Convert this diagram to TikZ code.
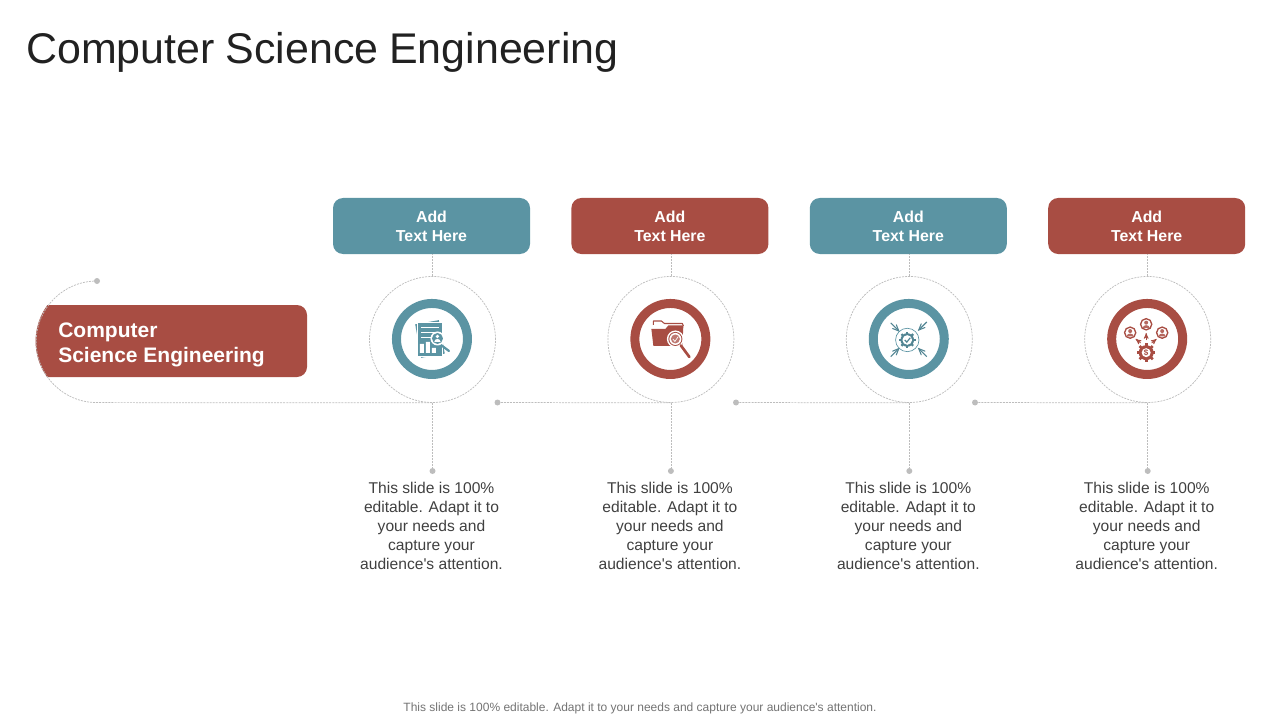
\documentclass[tikz,border=0pt]{standalone}
\usepackage{fontspec}
\setmainfont[Ligatures=TeXOff]{Liberation Sans}
\usetikzlibrary{arrows}
\definecolor{tealc}{HTML}{5B94A3}
\definecolor{redc}{HTML}{A84D43}
\definecolor{dotc}{HTML}{BDBDBD}
\tikzset{node distance=178.8pt,
  dashline/.style={draw=dotc,line width=0.55pt,dash pattern=on 1.5pt off 0.8pt},
  headbox/.style={rounded corners=7.5pt,minimum width=147.75pt,minimum height=42pt,inner sep=0pt,text=white,align=center,font=\fontsize{11.9}{14.25}\selectfont\bfseries},
  bodytext/.style={align=center,inner sep=0pt,text=black!75,font=\fontsize{11.7}{14.25}\selectfont},
  outerring/.style={circle,dashline,minimum size=94.5pt,inner sep=0pt},
  colorring/.style={circle,line width=6.75pt,minimum size=53.25pt,inner sep=0pt,xshift=-0.4pt,yshift=0.4pt},
  dotmark/.style={circle,fill=dotc,minimum size=4.5pt,inner sep=0pt},
  % icons are drawn around their centre, one unit is one pixel
  reporticon/.pic={
    \fill[tealc,rotate around={10:(-2,0)}] (-14,-17) rectangle (10,17);
    \filldraw[fill=tealc,draw=white,line width=0.5pt] (-15,-17) rectangle (10,17);
    \draw[white,line width=0.6pt] (-11,-12) -- (7,-12) (-11,-7) -- (7,-7) (-11,-2) -- (0,-2);
    \fill[white] (-12,5) rectangle (-8,14) (-6,3) rectangle (-2,14) (0,9) rectangle (4,14);
    \draw[tealc,line width=1.7pt,line cap=round] (9,6) -- (17,12);
    \fill[white] (5.5,-0.5) circle (7);
    \fill[tealc] (5.5,-0.5) circle (5.5);
    \fill[white] (5.5,-2.5) circle (1.8);
    \fill[white] (2.3,3) .. controls (2.5,-1) and (8.5,-1) .. (8.7,3) -- cycle;
  },
  foldericon/.pic={
    \draw[redc,line width=0.8pt,line join=round] (-17,-14) -- (-17,-18) -- (-9,-18) -- (-6,-15.5) -- (12,-15.5) -- (13,-13);
    \fill[redc] (-19,-10) -- (-5,-10) -- (-2,-13.5) -- (13,-13.5) -- (12,7) -- (-17,7) -- cycle;
    \fill[white] (5,0) circle (8.5);
    \fill[redc] (5,0) circle (7);
    \fill[white] (5,0) circle (6);
    \fill[redc!75] (5,0) circle (4.5);
    \draw[white,line width=0.5pt] (2.5,0) -- (4.5,2.5) -- (8,-2.5);
    \draw[redc,line width=2pt,line cap=round] (10.5,6.5) -- (19,18);
  },
  gearicon/.pic={
    \draw[tealc!90!black,line width=0.8pt,->,>=angle 45] (-18,-16) -- (-9,-7);
    \draw[tealc!90!black,line width=0.8pt,->,>=angle 45] (18,-17) -- (9,-8);
    \draw[tealc!90!black,line width=0.8pt,->,>=angle 45] (-18,17.7) -- (-9,8.7);
    \draw[tealc!90!black,line width=0.8pt,->,>=angle 45] (18,17.7) -- (9,8.7);
    \draw[tealc,line width=0.5pt] (-1.5,1) circle (11.7);
    \fill[tealc!90!black] (-1.5,1) circle (6.8);
    \foreach \a in {0,45,...,315} \draw[tealc!90!black,line width=1.6pt] (-1.5,1) -- ++(\a:8.3);
    \fill[white] (-1.5,1) circle (4.8);
    \draw[tealc!90!black,line width=0.9pt] (-4,1) -- (-2,3.2) -- (1.5,-1.2);
  },
  personicon/.pic={
    \draw[redc,line width=1pt] (0,0) circle (5.6);
    \fill[redc!85] (0,-1.6) circle (2);
    \fill[redc!85] (-3.6,3.6) .. controls (-3,0) and (3,0) .. (3.6,3.6) -- cycle;
  },
  payicon/.pic={
    \pic at (-1,-14.7) {personicon};
    \pic at (-17,-6.3) {personicon};
    \pic at (15,-6.3) {personicon};
    \draw[redc,line width=0.6pt,->,>=stealth'] (-1,1.5) -- (-1,-6);
    \draw[redc,line width=0.6pt,->,>=stealth'] (-6.5,4) -- (-11.5,0);
    \draw[redc,line width=0.6pt,->,>=stealth'] (4.5,4) -- (9.5,0);
    \fill[redc] (-1,13.7) circle (7.5);
    \foreach \a in {0,45,...,315} \draw[redc,line width=2pt] (-1,13.7) -- ++(\a:9.3);
    \fill[white] (-1,13.7) circle (4.5);
    \node (paysign) at (-1,13.7) [inner sep=0pt,text=redc,font=\fontsize{6}{6}\selectfont\bfseries] {\$};
  }
}

\begin{document}
\begin{tikzpicture}[x=0.75pt,y=-0.75pt]
  \useasboundingbox (0,0) rectangle (1280,720);

  \node[anchor=west,inner sep=0pt,text=black!87,font=\fontsize{32.2}{36}\selectfont] (title) at (26,52) {\spaceskip=8.2pt Computer Science Engineering};

  % start of the timeline
  \node[dotmark] (arcdot) at (97,281) {};
  \fill[redc] (47,305) [rounded corners=7.5pt] -- (307,305) -- (307,377) [sharp corners] -- (47,377) arc[start angle=215.5,end angle=144.5,radius=46.1pt] -- cycle;
  \node[anchor=west,inner sep=0pt,align=left,text=white,font=\fontsize{15.75}{18.75}\selectfont\bfseries] (lefttext) at (58,344.5) {Computer\\Science Engineering};

  \node[headbox,fill=tealc] (boxa) at (431.5,226) {Add\\Text Here};
  \node[headbox,fill=redc] (boxb) [right of=boxa] {Add\\Text Here};
  \node[headbox,fill=tealc] (boxc) [right of=boxb] {Add\\Text Here};
  \node[headbox,fill=redc] (boxd) [right of=boxc] {Add\\Text Here};

  \node[outerring] (outera) at (432.5,339.5) {};
  \node[outerring] (outerb) [right of=outera] {};
  \node[outerring] (outerc) [right of=outerb] {};
  \node[outerring] (outerd) [right of=outerc] {};

  \node[colorring,draw=tealc] (ringa) at (outera) {};
  \node[colorring,draw=redc] (ringb) at (outerb) {};
  \node[colorring,draw=tealc] (ringc) at (outerc) {};
  \node[colorring,draw=redc] (ringd) at (outerd) {};

  \pic at (ringa) {reporticon};
  \pic at (ringb) {foldericon};
  \pic at (ringc) {gearicon};
  \pic at (ringd) {payicon};

  \node[dotmark] (dota) at (432.5,471) {};
  \node[dotmark] (dotb) [right of=dota] {};
  \node[dotmark] (dotc) [right of=dotb] {};
  \node[dotmark] (dotd) [right of=dotc] {};

  \node[dotmark] (linkb) at (497.5,402.5) {};
  \node[dotmark] (linkc) at (736,402.5) {};
  \node[dotmark] (linkd) at (975,402.5) {};

  \node[bodytext,anchor=north] (texta) at (431.5,482) {This slide is 100\%\\editable. Adapt it to\\your needs and\\capture your\\audience's attention.};
  \node[bodytext,anchor=north] (textb) [right of=texta] {This slide is 100\%\\editable. Adapt it to\\your needs and\\capture your\\audience's attention.};
  \node[bodytext,anchor=north] (textc) [right of=textb] {This slide is 100\%\\editable. Adapt it to\\your needs and\\capture your\\audience's attention.};
  \node[bodytext,anchor=north] (textd) [right of=textc] {This slide is 100\%\\editable. Adapt it to\\your needs and\\capture your\\audience's attention.};

  \draw[dashline] (arcdot.center) arc[start angle=90,end angle=180,radius=45.6pt] arc[start angle=180,end angle=270,radius=45.6pt] -- (outera.south);

  \draw[dashline] (outera.north) -- (outera.north |- boxa.south);
  \draw[dashline] (outerb.north) -- (outerb.north |- boxb.south);
  \draw[dashline] (outerc.north) -- (outerc.north |- boxc.south);
  \draw[dashline] (outerd.north) -- (outerd.north |- boxd.south);

  \draw[dashline] (outera.south) -- (outera.south |- dota);
  \draw[dashline] (outerb.south) -- (outerb.south |- dotb);
  \draw[dashline] (outerc.south) -- (outerc.south |- dotc);
  \draw[dashline] (outerd.south) -- (outerd.south |- dotd);

  \draw[dashline] (linkb) -- (outerb.south);
  \draw[dashline] (linkc) -- (outerc.south);
  \draw[dashline] (linkd) -- (outerd.south);

  \node[inner sep=0pt,text=black!55,font=\fontsize{9}{11}\selectfont] (footer) at (640,708.5) {This slide is 100\% editable. Adapt it to your needs and capture your audience's attention.};
\end{tikzpicture}
\end{document}
